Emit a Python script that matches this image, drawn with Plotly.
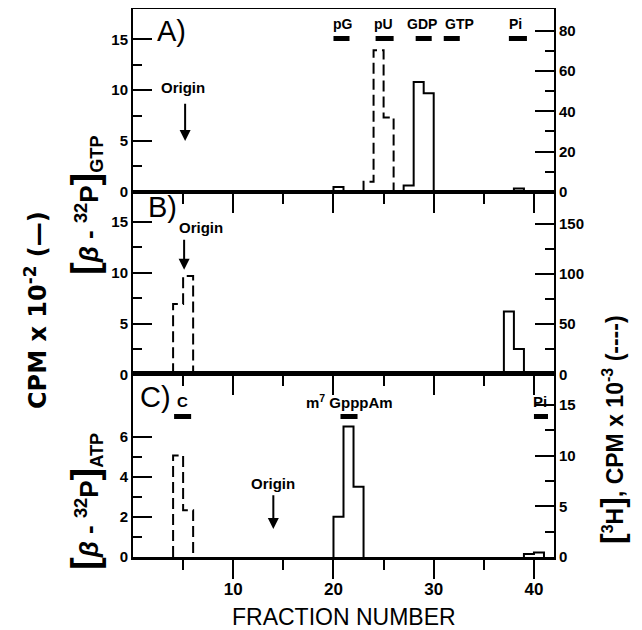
import plotly.graph_objects as go
from plotly.subplots import make_subplots

# ---------------- data (fraction n spans [n-1, n]) ----------------
# Panel A: [beta-32P]GTP (solid, left axis, CPM x 10^-2) and 3H (dashed, right axis, CPM x 10^-3)
a_p32_fractions = [21, 28, 29, 30, 39]
a_p32_values = [0.45, 0.6, 10.8, 9.7, 0.3]
a_h3_fractions = [24, 25, 26]
a_h3_values = [5.0, 70.5, 37.0]

# Panel B
b_p32_fractions = [38, 39]
b_p32_values = [6.2, 2.5]
b_h3_fractions = [5, 6]
b_h3_values = [70.0, 98.0]

# Panel C: [beta-32P]ATP
c_p32_fractions = [21, 22, 23, 40, 41]
c_p32_values = [2.0, 6.5, 3.5, 0.15, 0.22]
c_h3_fractions = [5, 6]
c_h3_values = [10.0, 4.6]

# marker standards (bars above peaks)
a_marker_names = ["pG", "pU", "GDP", "GTP", "Pi"]
a_marker_x0 = [20.0, 24.2, 28.2, 31.0, 37.5]
a_marker_x1 = [21.6, 26.0, 29.8, 32.6, 39.3]
a_marker_label_x = [20.9, 25.0, 28.8, 32.6, 38.2]

c_marker_names = ["C", "m<sup>7</sup> GpppAm", "Pi"]
c_marker_x0 = [4.1, 20.7, 40.0]
c_marker_x1 = [5.8, 22.4, 41.4]
c_marker_label_x = [4.9, 21.6, 40.6]

x_ticks = [10, 20, 30, 40]
x_minor = [5, 15, 25, 35]

FONT = "Liberation Sans"
WIDE = "DejaVu Sans"


def stairs(fracs, vals):
    xs, ys = [], []
    i = 0
    while i < len(fracs):
        j = i
        while j + 1 < len(fracs) and fracs[j + 1] == fracs[j] + 1:
            j += 1
        start = fracs[i] - 1
        xs.append(start); ys.append(0)
        for k in range(i, j + 1):
            left = fracs[k] - 1
            xs += [left, left + 1]
            ys += [vals[k], vals[k]]
        xs.append(fracs[j]); ys.append(0)
        xs.append(None); ys.append(None)
        i = j + 1
    return xs, ys


fig = make_subplots(rows=3, cols=1, specs=[[{"secondary_y": True}]] * 3,
                    vertical_spacing=0)

solid = dict(color="black", width=2)
dashed = dict(color="black", width=2, dash="11px,5px")

for row, (pf, pv, hf, hv) in enumerate([
        (a_p32_fractions, a_p32_values, a_h3_fractions, a_h3_values),
        (b_p32_fractions, b_p32_values, b_h3_fractions, b_h3_values),
        (c_p32_fractions, c_p32_values, c_h3_fractions, c_h3_values)], start=1):
    x, y = stairs(pf, pv)
    fig.add_trace(go.Scatter(x=x, y=y, mode="lines", line=solid, hoverinfo="skip"),
                  row=row, col=1, secondary_y=False)
    x, y = stairs(hf, hv)
    fig.add_trace(go.Scatter(x=x, y=y, mode="lines", line=dashed, hoverinfo="skip"),
                  row=row, col=1, secondary_y=True)

tickfont = dict(family=FONT, size=15, color="black", weight="bold")

for i, xa in enumerate(["xaxis", "xaxis2", "xaxis3"]):
    fig.layout[xa].update(
        domain=[0, 1],
        range=[0, 42], showline=True, linewidth=2, linecolor="black", mirror=True,
        showgrid=False, zeroline=False, ticks="outside", tickmode="array",
        tickvals=x_ticks, ticklen=19, tickwidth=2, tickcolor="black", automargin=False,
        minor=dict(tickmode="array", tickvals=x_minor, ticks="outside", ticklen=10,
                   tickwidth=2, tickcolor="black", showgrid=False),
        showticklabels=(i == 2), ticklabelstandoff=-4,
        tickfont=dict(family=FONT, size=17, color="black", weight="bold"),
    )
fig.layout.xaxis3.linewidth = 3

y_specs = {
    "yaxis": ([0, 18], [0, 5, 10, 15], [2.5, 7.5, 12.5]),
    "yaxis2": ([0, 91], [0, 20, 40, 60, 80], [10, 30, 50, 70]),
    "yaxis3": ([0, 18], [0, 5, 10, 15], [2.5, 7.5, 12.5]),
    "yaxis4": ([0, 182], [0, 50, 100, 150], [25, 75, 125]),
    "yaxis5": ([0, 9.1], [0, 2, 4, 6], [1, 3, 5]),
    "yaxis6": ([0, 18], [0, 5, 10, 15], [2.5, 7.5, 12.5]),
}
for ya, (rng, tv, mv) in y_specs.items():
    fig.layout[ya].update(
        range=rng, showline=True, linewidth=2, linecolor="black", showgrid=False,
        zeroline=False, ticks="inside", tickmode="array", tickvals=tv, ticklen=19,
        tickwidth=2, tickcolor="black", automargin=False,
        minor=dict(tickmode="array", tickvals=mv, ticks="inside", ticklen=9,
                   tickwidth=2, tickcolor="black", showgrid=False),
        tickfont=tickfont, ticklabelstandoff=0,
    )

ann = []
shapes = []

# panel letters
for txt, xr, yr, x, y in [("A)", "x", "y", 3.8, 15.8), ("B)", "x2", "y3", 2.9, 16.5),
                          ("C)", "x3", "y5", 2.2, 7.95)]:
    ann.append(dict(text=txt, xref=xr, yref=yr, x=x, y=y, showarrow=False,
                    xanchor="center", yanchor="middle",
                    font=dict(family=FONT, size=29, color="black")))

lab_font = dict(family=FONT, size=14, color="black", weight="bold")

# markers panel A
for name, x0, x1, lx in zip(a_marker_names, a_marker_x0, a_marker_x1, a_marker_label_x):
    shapes.append(dict(type="line", xref="x", yref="y", x0=x0, x1=x1, y0=15.1, y1=15.1,
                       line=dict(color="black", width=5)))
    ann.append(dict(text=name, xref="x", yref="y", x=lx, y=16.5, showarrow=False,
                    xanchor="center", yanchor="middle", font=lab_font))

# markers panel C
for name, x0, x1, lx in zip(c_marker_names, c_marker_x0, c_marker_x1, c_marker_label_x):
    shapes.append(dict(type="line", xref="x3", yref="y5", x0=x0, x1=x1, y0=7.0, y1=7.0,
                       line=dict(color="black", width=5)))
    ann.append(dict(text=name, xref="x3", yref="y5", x=lx, y=7.75, showarrow=False,
                    xanchor="center", yanchor="middle",
                    font=dict(family=FONT, size=15, color="black", weight="bold")))

# origin arrows
for xr, yr, tx, ty, axx, tail, head in [("x", "y", 5.0, 10.3, 5.2, 8.8, 5.0),
                                       ("x2", "y3", 6.8, 14.5, 5.1, 13.4, 10.3),
                                       ("x3", "y5", 14.0, 3.67, 14.0, 3.15, 1.4)]:
    ann.append(dict(text="Origin", xref=xr, yref=yr, x=tx, y=ty, showarrow=False,
                    xanchor="center", yanchor="middle",
                    font=dict(family=FONT, size=15, color="black", weight="bold")))
    ann.append(dict(text="", xref=xr, yref=yr, x=axx, y=head, ax=axx, ay=tail,
                    axref=xr, ayref=yr, showarrow=True, arrowhead=2, arrowsize=1.1,
                    arrowwidth=2, arrowcolor="black"))

# axis titles (positions given in page pixels, converted to paper coordinates)
W, H, L, B = 421.0, 548.0, 133.0, 557.0


def px(xp, yp):
    return (xp - L) / W, (B - yp) / H


def title(text, xp, yp, size, angle=-90, bold=True, family=FONT):
    x0p, y0p = px(xp, yp)
    f = dict(family=family, size=size, color="black")
    if bold:
        f["weight"] = "bold"
    ann.append(dict(text=text, xref="paper", yref="paper", x=x0p, y=y0p,
                    xanchor="center", yanchor="middle", textangle=angle,
                    showarrow=False, font=f))


def big(ch, size):
    return '<span style="font-size:%dpx">%s</span>' % (size, ch)


title("CPM x 10<sup>-2</sup> (—)", 36, 310, 24, family=WIDE)
title(big("[", 38) + "<i>β</i> - <sup>32</sup>P" + big("]", 38) + "<sub>GTP</sub>", 85, 205, 26)
title(big("[", 38) + "<i>β</i> - <sup>32</sup>P" + big("]", 38) + "<sub>ATP</sub>", 85, 502, 26)
title(big("[", 32) + "<sup>3</sup>H" + big("]", 32) + ", CPM x 10<sup>-3</sup> (----)", 612, 430, 23)
title("FRACTION NUMBER", 344, 617, 23, angle=0, bold=False)

# the page body adds an 8px offset; compensate so the plot sits where the reference has it
OFF = 8
FIG_W, FIG_H = 642 - OFF, 630 - OFF
fig.update_layout(
    template="none",
    width=FIG_W, height=FIG_H,
    margin=dict(l=133 - OFF, r=FIG_W - (133 - OFF) - 421, t=9 - OFF,
                b=FIG_H - (9 - OFF) - 548, autoexpand=False),
    showlegend=False, plot_bgcolor="white", paper_bgcolor="white",
    annotations=ann, shapes=shapes,
)

fig.write_html("out.html")
